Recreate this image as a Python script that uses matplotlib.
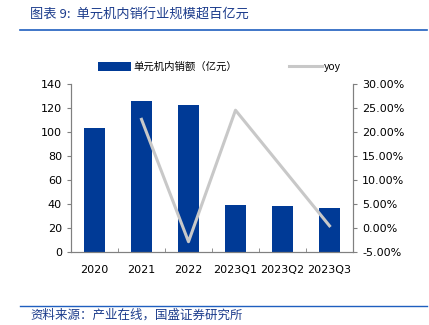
import matplotlib
matplotlib.use("Agg")
from matplotlib import pyplot as plt
import numpy as np

plt.rcParams['font.family'] = ['DejaVu Sans', 'Noto Sans CJK SC']

# data
categories = ['2020', '2021', '2022', '2023Q1', '2023Q2', '2023Q3']
sales = [103, 126, 122, 39.5, 38.5, 37]
yoy = [None, 22.6, -2.8, 24.5, 12.5, 0.5]

left_ticks = [0, 20, 40, 60, 80, 100, 120, 140]
right_ticks = [-5, 0, 5, 10, 15, 20, 25, 30]

bar_color = '#003A96'
line_color = '#C8C8C8'
axis_color = '#808080'
title_color = '#1C3C8C'
fs = 8

fig = plt.figure(figsize=(4.29, 3.25), dpi=100)
ax = fig.add_axes([71 / 429, 1 - 252.3 / 325, 282 / 429, 168.6 / 325])
ax2 = ax.twinx()

x = np.arange(len(categories))
bars = ax.bar(x, sales, width=0.46, color=bar_color, zorder=2)
ax.set_xlim(-0.5, len(categories) - 0.5)
ax.set_ylim(0, 140)
ax.set_yticks(left_ticks)
ax.set_xticks(x)
ax.set_xticklabels(categories, fontsize=fs)
ax.set_xticks(np.arange(0.5, len(categories) - 1, 1), minor=True)
ax.tick_params(axis='x', which='major', length=0, pad=9)
ax.tick_params(axis='x', which='minor', length=3, direction='in', color=axis_color)
ax.tick_params(axis='y', labelsize=fs, length=3, color=axis_color)

yx = [i for i, v in enumerate(yoy) if v is not None]
yv = [v for v in yoy if v is not None]
line, = ax2.plot(yx, yv, color=line_color, lw=2.2, zorder=3)
ax2.set_ylim(-5, 30)
ax2.set_yticks(right_ticks)
ax2.set_yticklabels([f'{t:.2f}%' for t in right_ticks], fontsize=fs)
ax2.tick_params(axis='y', length=3, color=axis_color)

for a in (ax, ax2):
    a.spines['top'].set_visible(False)
    for s in ('left', 'right', 'bottom'):
        a.spines[s].set_color(axis_color)
        a.spines[s].set_linewidth(0.8)
ax.set_zorder(ax2.get_zorder() - 1)
ax2.patch.set_visible(False)

fig.legend([bars, line], ['单元机内销额（亿元）', 'yoy'], loc='center',
           bbox_to_anchor=(219.5 / 429, 1 - 67 / 325), ncol=2, frameon=False,
           handlelength=3.2, handleheight=0.9,
           columnspacing=5.0, handletextpad=0.2,
           prop={'family': ['Noto Sans CJK SC', 'DejaVu Sans'], 'size': 7.5})

# title and source
fig.text(30 / 429, 1 - 15 / 325, '图表 9:  单元机内销行业规模超百亿元', color=title_color,
         fontsize=9.5, va='center', ha='left', style='italic',
         family=['Noto Sans CJK SC', 'DejaVu Sans'])
fig.add_artist(plt.Line2D([20 / 429, 427 / 429], [1 - 30 / 325, 1 - 30 / 325],
                          color='#1F5FBF', lw=1.2))
fig.add_artist(plt.Line2D([20 / 429, 427 / 429], [1 - 305.5 / 325, 1 - 305.5 / 325],
                          color='#1F5FBF', lw=1.0))
fig.text(30 / 429, 1 - 315 / 325, '资料来源：产业在线，国盛证券研究所', color=title_color,
         fontsize=9, va='center', ha='left', style='italic',
         family=['Noto Sans CJK SC', 'DejaVu Sans'])

fig.savefig('out.png', dpi=100)
